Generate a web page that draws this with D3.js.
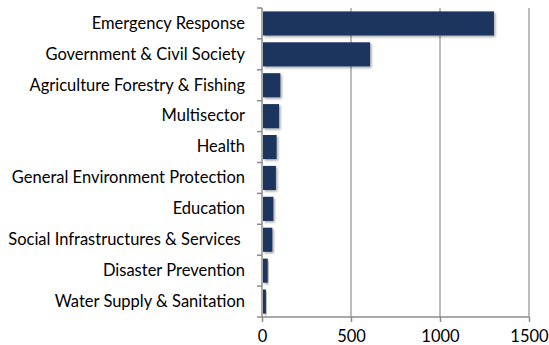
<!DOCTYPE html>
<html><head><meta charset="utf-8">
<script src="https://cdn.jsdelivr.net/npm/d3@7"></script>
<style>body{margin:0;background:#fff;}svg{display:block;}</style>
</head><body>
<script>
const categories = ["Emergency Response","Government & Civil Society","Agriculture Forestry & Fishing","Multisector","Health","General Environment Protection","Education","Social Infrastructures & Services ","Disaster Prevention","Water Supply & Sanitation"];
const values = [1303, 607, 103, 96, 82, 78, 64, 58, 32, 22];
const xTicks = [0, 500, 1000, 1500];

(function(){
const W = 549, H = 345;
const mLeft = 262, mRight = 529, mTop = 8, mBottom = 317;
const svg = d3.select("body").append("svg").attr("width", W).attr("height", H);

const defs = svg.append("defs");
const f = defs.append("filter").attr("id","sh").attr("x","-10%").attr("y","-20%").attr("width","130%").attr("height","160%");
f.append("feDropShadow").attr("dx",1.5).attr("dy",1.5).attr("stdDeviation",1.2).attr("flood-color","#000").attr("flood-opacity",0.35);

const x = d3.scaleLinear().domain([0,1500]).range([mLeft,mRight]);
const y = d3.scaleBand().domain(categories).range([mTop,mBottom]).paddingInner(0.22).paddingOuter(0.11);

// gridlines
svg.append("g").selectAll("line").data(xTicks.slice(1)).join("line")
  .attr("x1", d=>x(d)).attr("x2", d=>x(d)).attr("y1", mTop).attr("y2", mBottom)
  .attr("stroke","#a6a6a6").attr("stroke-width",1.5);

// bars
svg.append("g").selectAll("rect").data(values).join("rect")
  .attr("x", x(0)+1).attr("y", (d,i)=>y(categories[i]))
  .attr("width", d=>x(d)-x(0)-1).attr("height", y.bandwidth())
  .attr("fill","#1b365e").attr("filter","url(#sh)");

// x axis
const xa = svg.append("g").attr("transform",`translate(0,${mBottom})`)
  .call(d3.axisBottom(x).tickValues(xTicks).tickSize(5).tickPadding(8).tickFormat(d3.format("d")));
xa.select(".domain").attr("stroke","#8c8c8c").attr("stroke-width",1.5).attr("d",`M${mLeft},0H${mRight}`);
xa.selectAll(".tick line").attr("stroke","#8c8c8c").attr("stroke-width",1.5);
xa.selectAll("text").attr("font-family","Lato, 'Open Sans', sans-serif").attr("font-size",16.5).attr("fill","#000");

// y axis
const yb = d3.scaleBand().domain(categories).range([mTop,mBottom]);
const ya = svg.append("g").attr("transform",`translate(${mLeft},0)`)
  .call(d3.axisLeft(yb).tickSize(0).tickPadding(17));
ya.select(".domain").attr("stroke","#8c8c8c").attr("stroke-width",1.5).attr("d",`M0,${mTop}V${mBottom}`);
ya.selectAll("text").attr("font-family","Lato, 'Open Sans', sans-serif").attr("font-size",16.5).attr("fill","#000")
  .style("white-space","pre");
// boundary ticks
const bounds = d3.range(categories.length+1).map(i=>mTop + i*yb.step());
svg.append("g").selectAll("line").data(bounds).join("line")
  .attr("x1", mLeft-5).attr("x2", mLeft).attr("y1", d=>d).attr("y2", d=>d)
  .attr("stroke","#8c8c8c").attr("stroke-width",1.5);
})();
</script>
</body></html>
